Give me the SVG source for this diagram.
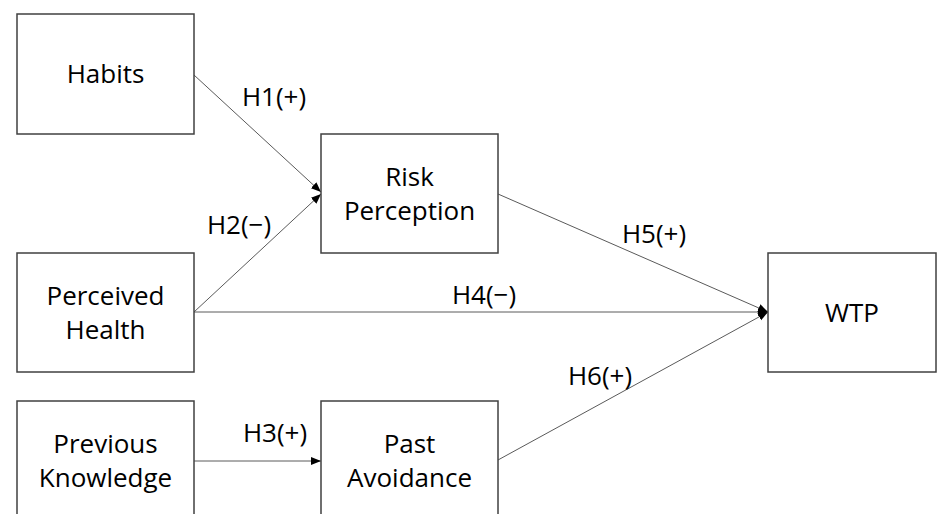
<svg xmlns="http://www.w3.org/2000/svg" width="937" height="514" viewBox="0 0 937 514">
<style>
.box{fill:#fff;stroke:#404040;stroke-width:1.5}
.t{font-family:"Open Sans","Liberation Sans",sans-serif;font-size:26px;fill:#000;text-anchor:middle}
.c{stroke:#5a5a5a;stroke-width:1;fill:none;marker-end:url(#ah)}
</style>
<defs>
<marker id="ah" viewBox="0 0 10 10" refX="10" refY="5" markerWidth="10" markerHeight="10" markerUnits="userSpaceOnUse" orient="auto">
<path d="M0,1 L10,5 L0,9 Z" fill="#000"/>
</marker>
</defs>
<rect width="937" height="514" fill="#fff"/>
<g id="connectors">
<line class="c" x1="194" y1="75" x2="321" y2="192"/>
<line class="c" x1="194" y1="312" x2="321" y2="194"/>
<line class="c" x1="194" y1="312" x2="768" y2="312"/>
<line class="c" x1="498" y1="194" x2="768" y2="312"/>
<line class="c" x1="498" y1="460" x2="768" y2="312"/>
<line class="c" x1="194" y1="461" x2="321" y2="461"/>
<text class="t" x="274" y="106">H1(+)</text>
<text class="t" x="239" y="234">H2(−)</text>
<text class="t" x="654" y="243">H5(+)</text>
<text class="t" x="484" y="304">H4(−)</text>
<text class="t" x="600" y="385">H6(+)</text>
<text class="t" x="275" y="442">H3(+)</text>
</g>
<g id="habits"><rect class="box" x="17" y="14" width="177" height="120"/><text class="t" x="105.5" y="83">Habits</text></g>
<g id="risk"><rect class="box" x="321" y="134" width="177" height="119"/><text class="t" x="409.5" y="186">Risk</text><text class="t" x="409.5" y="220">Perception</text></g>
<g id="health"><rect class="box" x="17" y="253" width="177" height="119"/><text class="t" x="105.5" y="305">Perceived</text><text class="t" x="105.5" y="339">Health</text></g>
<g id="wtp"><rect class="box" x="768" y="253" width="168" height="119"/><text class="t" x="852" y="322">WTP</text></g>
<g id="knowledge"><rect class="box" x="17" y="401" width="177" height="130"/><text class="t" x="105.5" y="453">Previous</text><text class="t" x="105.5" y="487">Knowledge</text></g>
<g id="avoidance"><rect class="box" x="321" y="401" width="177" height="130"/><text class="t" x="409.5" y="453">Past</text><text class="t" x="409.5" y="487">Avoidance</text></g>
</svg>
